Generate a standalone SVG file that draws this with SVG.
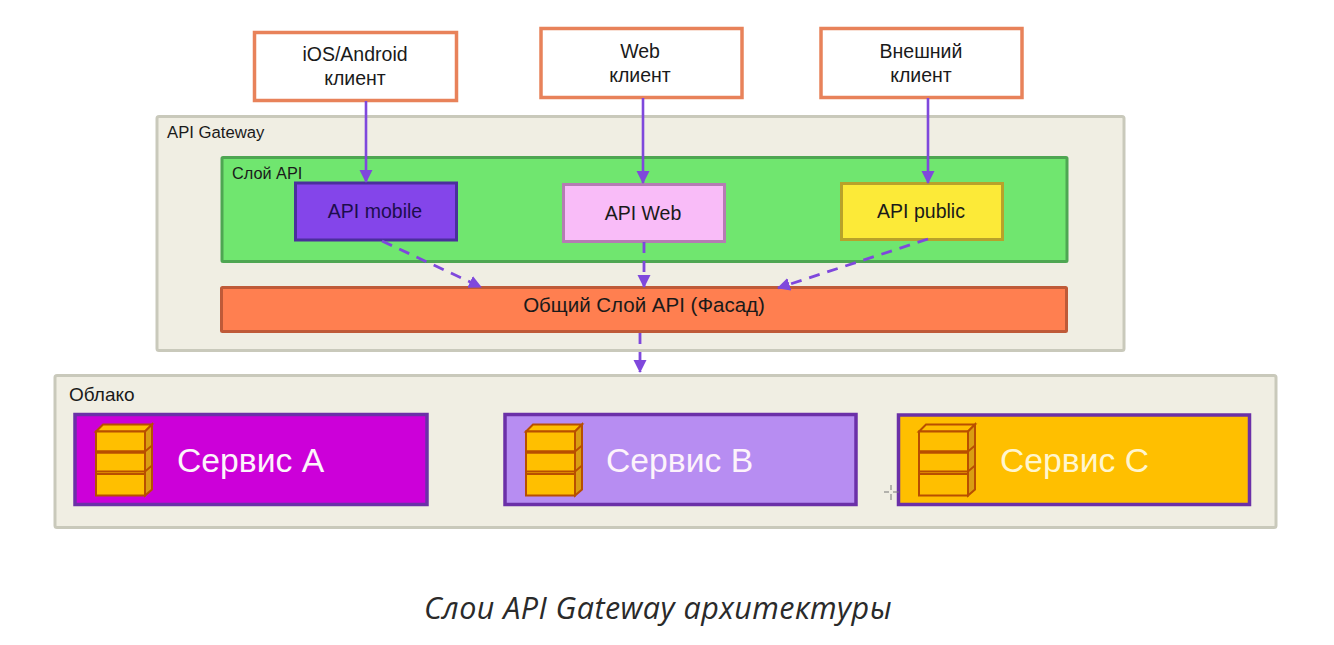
<svg xmlns="http://www.w3.org/2000/svg" width="1334" height="645" viewBox="0 0 1334 645">
<style>
text{font-family:"Liberation Sans",Arial,sans-serif;fill:#1a1a1a}
.c{text-anchor:middle}
.client{fill:#fff;stroke:#e8825a;stroke-width:3.5}
.t18{font-size:19.500px}
.svc{font-size:33.700px;fill:#fdf3fb}
.cont{fill:#f0eee3;stroke:#c9c9bb;stroke-width:3}
.solid{fill:none;stroke:#7f48dc;stroke-width:2.600}
.dash{fill:none;stroke:#7f48dc;stroke-width:2.800;stroke-dasharray:11 8}
.ah{fill:#7f48dc}
.box{fill:#ffbf00;stroke:#b84f00;stroke-width:2}
.side{fill:#d99e12;stroke:#b84f00;stroke-width:2}
</style>
<defs>
<g id="disk">
<path class="box" d="M0 7 L7 0 H56 L49 7 Z"/>
<rect class="box" x="0" y="7" width="49" height="64"/>
<path d="M49 7 L56 0 V65 L49 71 Z" class="side"/>
<path d="M0 27.500 H49" stroke="#b84f00" stroke-width="3.500" fill="none"/>
<path d="M0 47 H49 M0 49.500 H49" stroke="#b84f00" stroke-width="1.800" fill="none"/>
<path d="M49 27 L56 21 M49 47 L56 41" stroke="#b84f00" stroke-width="1.800" fill="none"/>
</g>
<marker id="arr" markerUnits="userSpaceOnUse" markerWidth="14" markerHeight="14" refX="12" refY="6.500" orient="auto"><path class="ah" d="M0 0 L13 6.500 L0 13 Z"/></marker>
</defs>
<rect width="1334" height="645" fill="#fff"/>

<g id="gateway"><rect class="cont" x="157" y="116.500" width="967" height="234" rx="2"/><text x="167" y="138" font-size="16.700">API Gateway</text></g>
<g id="cloud"><rect class="cont" x="55" y="375.500" width="1221" height="152" rx="2"/><text x="69" y="401" font-size="19">Облако</text></g>
<g id="layer-api"><rect x="222" y="157.500" width="845" height="104" fill="#70e66f" stroke="#4ea652" stroke-width="3" rx="1"/><text x="232" y="179" font-size="16.300">Слой API</text></g>
<g id="facade"><rect x="221.500" y="287.500" width="845" height="44" fill="#ff7f50" stroke="#bf5a38" stroke-width="3" rx="1"/><text class="c" font-size="20.500" x="644" y="312">Общий Слой API (Фасад)</text></g>

<g id="client-mobile"><rect class="client" x="254.500" y="32.500" width="202" height="68"/><text class="c t18" x="355" y="61">iOS/Android</text><text class="c t18" x="355" y="85">клиент</text></g>
<g id="client-web"><rect class="client" x="541" y="28.500" width="201" height="69"/><text class="c t18" x="640" y="58">Web</text><text class="c t18" x="640" y="82">клиент</text></g>
<g id="client-external"><rect class="client" x="821" y="28.500" width="201" height="69"/><text class="c t18" x="921" y="58">Внешний</text><text class="c t18" x="921" y="82">клиент</text></g>

<g id="api-mobile"><rect x="295.500" y="183" width="161" height="57" fill="#8445ea" stroke="#4a2f9c" stroke-width="3"/><text class="c t18" x="375" y="218" style="fill:#1d0d4d">API mobile</text></g>
<g id="api-web"><rect x="563.500" y="184.500" width="161" height="57" fill="#f9bcf8" stroke="#b57cb3" stroke-width="3"/><text class="c t18" x="643" y="220">API Web</text></g>
<g id="api-public"><rect x="841.500" y="183.500" width="161" height="56" fill="#fcea38" stroke="#b8a22a" stroke-width="3"/><text class="c t18" x="921" y="218">API public</text></g>

<g id="service-a"><rect x="75" y="414.500" width="352" height="90" fill="#cc00d9" stroke="#6b30a8" stroke-width="3.500"/><use href="#disk" x="96" y="424.500"/><text class="svc" x="177" y="472">Сервис A</text></g>
<g id="service-b"><rect x="505" y="414.500" width="351" height="90" fill="#b78df2" stroke="#6b30a8" stroke-width="3.500"/><use href="#disk" x="526" y="424.500"/><text class="svc" x="606" y="472">Сервис B</text></g>
<g id="service-c"><rect x="898.500" y="415" width="351" height="89.500" fill="#ffbf00" stroke="#6b30a8" stroke-width="3.500"/><use href="#disk" x="919" y="424.500"/><text class="svc" x="1000" y="472" style="fill:#fff6cf">Сервис C</text></g>

<g id="connectors">
<path class="solid" d="M366 101 V182" marker-end="url(#arr)"/>
<path class="solid" d="M643 98 V183" marker-end="url(#arr)"/>
<path class="solid" d="M928 98 V183" marker-end="url(#arr)"/>
<path class="dash" d="M382 241 L481 287" marker-end="url(#arr)"/>
<path class="dash" d="M644 242 V287" marker-end="url(#arr)"/>
<path class="dash" d="M928 239 L778 288" marker-end="url(#arr)"/>
<path class="dash" d="M640 333 V372" marker-end="url(#arr)"/>
</g>

<path d="M884 492 H889 M893 492 H899 M891 485 V490 M891 494 V500" stroke="#777" stroke-width="1" fill="none"/>
<text class="c" x="658" y="619" font-size="30.500" font-style="italic" letter-spacing="0.450" style="font-family:'Open Sans','Liberation Sans',sans-serif;fill:#2a2a2a">Слои API Gateway архитектуры</text>
</svg>
